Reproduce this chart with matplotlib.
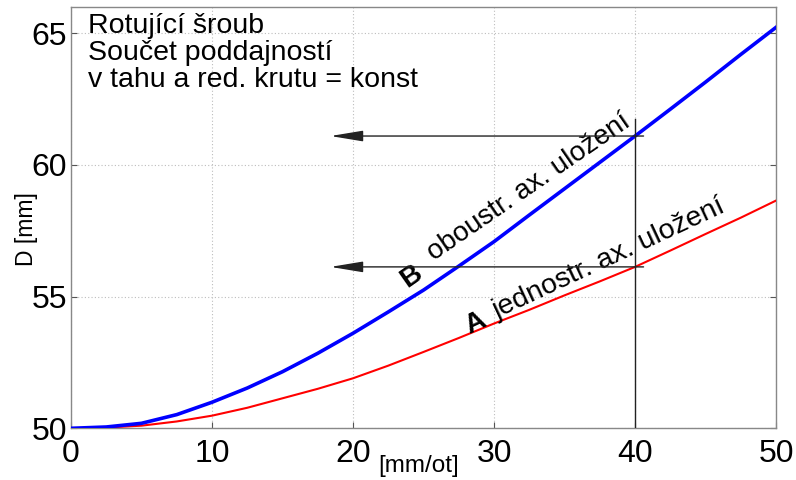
import matplotlib
matplotlib.use("Agg")
import matplotlib.pyplot as plt

plt.rcParams['font.family'] = ['Liberation Sans', 'DejaVu Sans']

# Lead of thread [mm/ot]
x_lead = [0, 2.5, 5, 7.5, 10, 12.5, 15, 17.5, 20, 22.5, 25, 27.5, 30,
          32.5, 35, 37.5, 40, 42.5, 45, 47.5, 50]
# B: double-sided axial support
d_both = [50.0, 50.05, 50.19, 50.52, 50.99, 51.53, 52.15, 52.85, 53.61, 54.42,
          55.25, 56.16, 57.09, 58.10, 59.10, 60.10, 61.10, 62.12, 63.15, 64.20, 65.23]
# A: single-sided axial support
d_single = [50.0, 50.03, 50.10, 50.26, 50.48, 50.78, 51.14, 51.50, 51.90, 52.38,
            52.90, 53.43, 53.98, 54.50, 55.05, 55.58, 56.13, 56.75, 57.38, 58.00, 58.65]

x_ticks = [0, 10, 20, 30, 40, 50]
y_ticks = [50, 55, 60, 65]

# Reading point at a lead of 40 mm/ot
x_read = 40
d_read_both = 61.10
d_read_single = 56.13
x_arrow_end = 18.4

fig = plt.figure(figsize=(7.96, 4.8), dpi=100)
ax = fig.add_axes([0.0892, 0.1077, 0.8858, 0.8777])

ax.plot(x_lead, d_single, color='#ff0000', lw=1.5, zorder=3)
ax.plot(x_lead, d_both, color='#0000ff', lw=2.6, zorder=4)

ax.set_xlim(0, 50)
ax.set_ylim(50, 66)
ax.set_xticks(x_ticks)
ax.set_yticks(y_ticks)
ax.grid(True, color='#bdbdbd', linestyle=(0, (1, 2)), lw=0.8)
ax.tick_params(direction='in', length=4, width=0.8, color='#555555',
               labelsize=23, top=False, right=True)
ax.tick_params(axis='x', pad=8)
ax.tick_params(axis='y', pad=3)
for s in ax.spines.values():
    s.set_color('#888888')
    s.set_linewidth(1.0)

# Vertical reading line and arrows to the D axis
ax.plot([x_read, x_read], [50, 61.75], color='#222222', lw=1.0, zorder=5)
for d in (d_read_both, d_read_single):
    ax.annotate('', xy=(x_arrow_end, d), xytext=(x_read + 0.6, d),
                arrowprops=dict(arrowstyle='-|>,head_length=2.0,head_width=0.33',
                                color='#222222', lw=1.0, shrinkA=0, shrinkB=0),
                zorder=5)

ax.text(0.024, 0.986, 'Rotující šroub\nSoučet poddajností\nv tahu a red. krutu = konst',
        transform=ax.transAxes, ha='left', va='top', fontsize=20.5,
        linespacing=1.04)

# Curve labels
ax.text(24.1, 55.75, 'B', rotation=35, rotation_mode='anchor', ha='center',
        va='center', fontsize=20, fontweight='bold')
ax.text(26.0, 56.15, 'oboustr. ax. uložení', rotation=34.5, rotation_mode='anchor',
        ha='left', va='bottom', fontsize=20)
ax.text(28.7, 54.0, 'A', rotation=25, rotation_mode='anchor', ha='center',
        va='center', fontsize=20, fontweight='bold')
ax.text(30.4, 53.95, 'jednostr. ax. uložení', rotation=25, rotation_mode='anchor',
        ha='left', va='bottom', fontsize=20.5)

fig.text(419 / 796, 1 - 466 / 480, '[mm/ot]', ha='center', va='center', fontsize=17.5)
fig.text(27 / 796, 1 - 229 / 480, 'D [mm]', ha='center', va='center',
         rotation=90, fontsize=16.5)

fig.savefig('out.png', dpi=100, facecolor='white')
